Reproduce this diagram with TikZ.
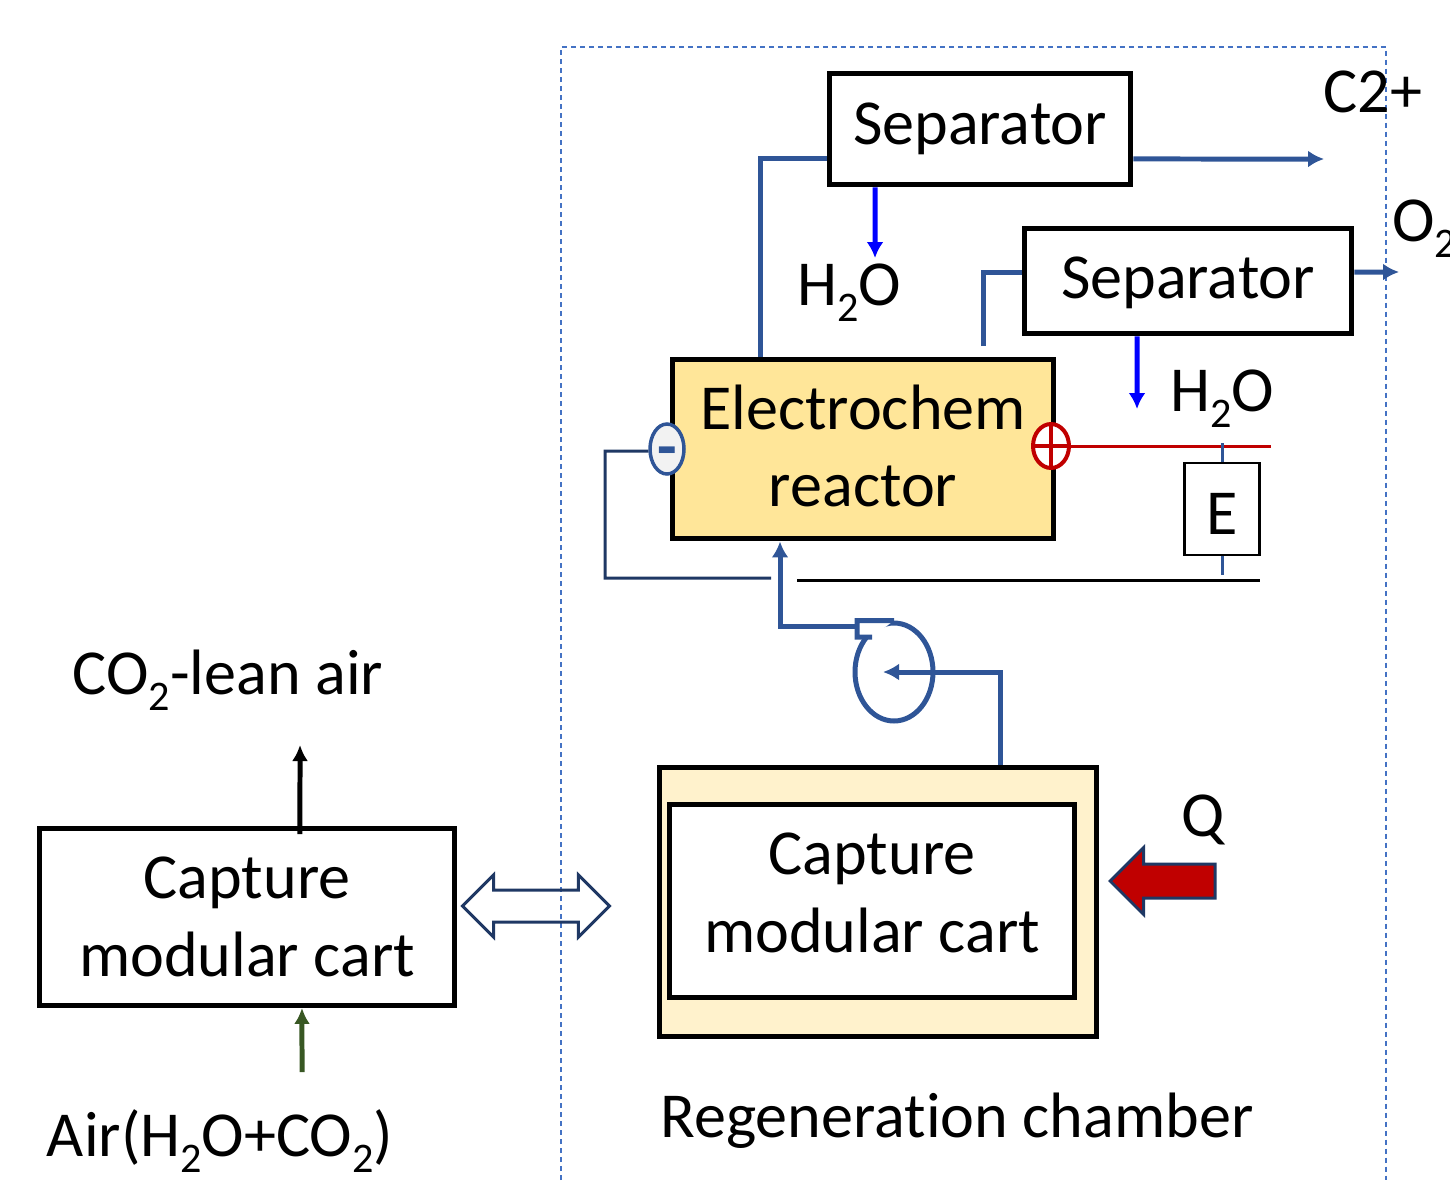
\documentclass[tikz,border=0pt]{standalone}
\usepackage{fontspec}
\setmainfont[Ligatures=NoCommon]{Carlito}
\usepackage{xcolor}
\usetikzlibrary{arrows.meta}
\usetikzlibrary{positioning}
\usetikzlibrary{shapes.geometric,shapes.arrows}
\definecolor{mypipe}{HTML}{2F5597}
\definecolor{mynavy}{HTML}{1F3864}
\definecolor{myred}{HTML}{C00000}
\definecolor{mygreen}{HTML}{385723}
\definecolor{myframe}{HTML}{4472C4}
\definecolor{myreactor}{HTML}{FFE699}
\definecolor{mychamber}{HTML}{FFF2CC}
\newcommand{\subtwo}{\raisebox{-0.25em}{\fontsize{24}{24}\selectfont 2}}
\tikzset{
  >=latex,
  box/.style={draw=black, line width=0.1cm, rectangle, align=center, fill=white, inner sep=0},
  label/.style={inner sep=0, align=center},
  pipe/.style={mypipe, line width=0.1cm},
  pipe arrow/.style={pipe, -{Latex[length=0.32cm,width=0.34cm]}},
  water arrow/.style={blue, line width=0.1cm, -{Latex[length=0.32cm,width=0.34cm]}},
  wire/.style={line width=0.06cm}
}

\begin{document}
\begin{tikzpicture}[x=0.02cm, y=-0.02cm, font=\fontsize{36.5}{44}\selectfont]
\useasboundingbox (0,0) rectangle (1450,1180);

% The chamber outline
\coordinate (frame bl) at (561,1180);
\coordinate (frame br) at (1386,1180);
\draw[myframe, line width=0.025cm, dashed, dash pattern=on 0.1cm off 0.08cm] (frame bl) |- (1386,47) -- (frame br);

% The boxes
\node[box, minimum width=6.04cm, minimum height=2.24cm] (sepa) at (980,129) {Separator};
\node[box, minimum width=6.56cm, minimum height=2.12cm, text height=0.95cm, text depth=0.24cm] (sepb) at (1188,281) {Separator};
\node[box, fill=myreactor, minimum width=7.64cm, minimum height=3.6cm] (reactor) at (863,449) {};
\node[box, line width=0.05cm, minimum width=1.5cm, minimum height=1.84cm, text height=1cm, text depth=0cm] (source) at (1222,509) {E};
\node[box, minimum width=8.32cm, minimum height=3.54cm] (cartl) at (247,917) {Capture\\modular cart};
\node[box, fill=mychamber, minimum width=8.76cm, minimum height=5.4cm] (chamber) at (878,902) {};
\node[box, minimum width=8.12cm, minimum height=3.86cm] (cartr) at (872,901) {};

% The terminals and the pump
\node[ellipse, draw=mypipe, line width=0.07cm, fill=black!5, minimum width=0.68cm, minimum height=1cm, inner sep=0] (minus) at (667,449) {};
\node[ellipse, draw=myred, line width=0.08cm, fill=white, minimum width=0.72cm, minimum height=0.88cm, inner sep=0] (plus) at (1051,446) {};
\draw[myred, line width=0.07cm] (plus.north) -- (plus.south);
\draw[myred, line width=0.07cm] (plus.west) -- (plus.east);
\node[ellipse, draw=mypipe, line width=0.1cm, minimum width=1.56cm, minimum height=1.96cm, inner sep=0] (pump) at (894,672) {};
\coordinate (pump lip) at (857,637);
\coordinate (pump neck) at (872,637);
\fill[white] (pump.north) -- ([xshift=-0.74cm]pump.north) -- (pump lip) -- (pump neck) -- cycle;
\draw[pipe] (pump.north) -- ([xshift=-0.74cm]pump.north) -- (pump lip) -- (pump neck);

% The block arrows
\node[double arrow, draw=mynavy, line width=0.06cm, minimum height=2.94cm, minimum width=1.2cm, double arrow head extend=0.3cm, inner sep=0.29cm] (swap) at (536,906) {};
\node[single arrow, draw=mynavy, fill=myred, line width=0.06cm, shape border rotate=180, minimum height=2.1cm, minimum width=1.28cm, single arrow head extend=0.33cm, inner sep=0.31cm, anchor=tip] (heat) at (1108,881) {};

% The labels
\node[label] (reactorlabel) at (863,446) {Electrochem\\reactor};
\node[label] (cartlabel) at (872,893) {Capture\\modular cart};
\node[label, text=mypipe] (minussign) at (667,458) {\bfseries -};
\node[label] (cout) at (1373,92) {C2+};
\node[label, anchor=west] (oout) at (1392,229) {O\subtwo};
\node[label] (watera) at (849,293) {H\subtwo O};
\node[label] (waterb) at (1222,399) {H\subtwo O};
\node[label] (lean) at (228,680) {CO\subtwo-lean air};
\node[label] (air) at (220,1141) {Air(H\subtwo O+CO\subtwo)};
\node[label] (qlabel) at (1203,820) {Q};
\node[label] (chamberlabel) at (957,1121) {Regeneration chamber};

% The free ends
\coordinate (c end) at (1324,159);
\coordinate (o end) at (1399,272);
\coordinate (water end a) at (875,258);
\coordinate (water end b) at (1137,409);
\coordinate (stub) at (983,346);
\coordinate (lean end) at (300,745);
\coordinate (air start) at (302,1072);
\coordinate (red end) at (1271,446);
\coordinate (wire end) at (771,578);
\coordinate (black start) at (797,580);
\coordinate (black end) at (1260,580);
\coordinate (top tap) at (1222,443);
\coordinate (low tap) at (1222,575);

% The connections
\draw[pipe] ([xshift=-2.06cm]reactor.north) |- ([yshift=-0.6cm]sepa.west);
\draw[pipe arrow] ([yshift=-0.6cm]sepa.east) -- (c end);
\draw[water arrow] ([xshift=-2.1cm]sepa.south) -- (water end a);
\draw[pipe] (stub) |- ([yshift=0.18cm]sepb.west);
\draw[pipe arrow] ([yshift=0.18cm]sepb.east) -- (o end);
\draw[water arrow] ([xshift=-1.02cm]sepb.south) -- (water end b);
\draw[pipe arrow] ([xshift=-0.78cm,yshift=-0.12cm]pump.north) -| ([xshift=-1.66cm]reactor.south);
\draw[pipe arrow] ([xshift=2.46cm]chamber.north) |- ([xshift=-0.22cm]pump.center);
\draw[myred, wire] (plus.east) -- (red end);
\draw[mypipe, wire] (top tap) -- (source.north);
\draw[mypipe, wire] (source.south) -- (low tap);
\draw[black, wire] (black start) -- (black end);
\draw[mynavy, wire] ([yshift=-0.04cm]minus.west) -- (605,451) |- (wire end);
\draw[black, line width=0.1cm, -{Latex[length=0.32cm,width=0.32cm]}] ([xshift=1.06cm,yshift=-0.16cm]cartl.north) -- (lean end);
\draw[mygreen, line width=0.1cm, -{Latex[length=0.32cm,width=0.32cm]}] (air start) -- ([xshift=1.1cm]cartl.south);

\end{tikzpicture}
\end{document}
